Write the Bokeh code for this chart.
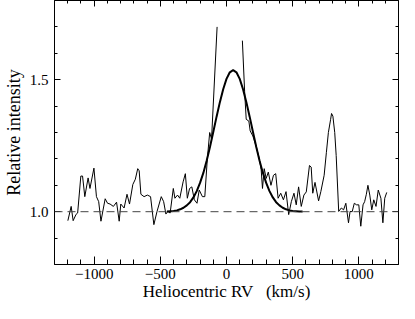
import numpy as np
from bokeh.plotting import figure
from bokeh.models import Range1d, FixedTicker, LinearAxis, Span, ColumnDataSource, CustomJSTickFormatter
from bokeh.embed import file_html
from bokeh.resources import INLINE

# Observed spectrum (heliocentric velocity km/s, relative intensity); NaN marks the gap
SPEC_VEL = [-1199, -1174, -1159, -1137, -1125, -1101, -1088, -1071, -1046, -1032,
            -1002, -983, -966, -949, -917, -899, -880, -855, -831, -811,
            -799, -774, -752, -733, -708, -689, -671, -660, -647, -623,
            -598, -574, -549, -525, -493, -475, -458, -444, -426, -402,
            -390, -370, -353, -328, -311, -296, -279, -262, -243, -223,
            -206, -182, -164, -145, -127, -113, -71, 0,
            120, 137, 149, 169, 179, 199, 223, 248, 262, 272,
            285, 300, 316, 336, 355, 372, 390, 410, 430, 450,
            470, 490, 510, 527, 545, 565, 585, 603, 627, 640,
            652, 669, 696, 713, 738, 755, 770, 787, 794, 804,
            818, 829, 848, 868, 885, 902, 922, 934, 950, 966,
            983, 1000, 1015, 1032, 1044, 1057, 1069, 1083, 1098, 1113,
            1130, 1147, 1167, 1182, 1196, 1211]
SPEC_INT = [0.966, 1.020, 0.966, 0.990, 0.995, 1.135, 1.135, 1.057, 1.128, 1.088,
            1.165, 1.057, 1.038, 0.964, 1.049, 1.032, 1.029, 1.020, 1.036, 0.964,
            1.029, 1.014, 1.066, 1.029, 1.103, 1.123, 1.163, 1.155, 1.066, 1.057,
            1.063, 1.057, 0.951, 1.001, 1.057, 1.038, 0.991, 1.001, 0.995, 1.088,
            1.051, 1.063, 1.051, 1.113, 1.144, 1.051, 1.088, 1.094, 1.045, 1.032,
            1.082, 1.057, 1.057, 1.200, 1.300, 1.275, 1.700, float("nan"),
            1.648, 1.455, 1.350, 1.343, 1.306, 1.287, 1.250, 1.200, 1.160, 1.088,
            1.163, 1.126, 1.150, 1.100, 1.138, 1.144, 1.051, 1.070, 1.045, 1.076,
            0.989, 1.038, 1.070, 1.026, 1.094, 1.020, 1.063, 1.075, 1.175, 1.169,
            1.070, 1.111, 1.041, 1.076, 1.138, 1.225, 1.300, 1.350, 1.372, 1.362,
            1.300, 1.213, 1.001, 1.014, 1.007, 1.032, 0.958, 1.001, 1.000, 1.032,
            1.026, 1.026, 0.945, 1.026, 1.038, 1.066, 1.100, 1.063, 1.007, 1.045,
            1.020, 1.082, 1.051, 0.958, 1.051, 1.073]

# Fitted profile
FIT_VEL = [-450, -425, -400, -375, -350, -325, -300, -275, -250, -225,
           -200, -175, -150, -125, -100, -75, -50, -25, 0, 25,
           50, 75, 100, 125, 150, 175, 200, 225, 250, 275,
           300, 325, 350, 375, 400, 425, 450, 475, 500, 525,
           550, 575]
FIT_INT = [1.001, 1.002, 1.003, 1.005, 1.009, 1.015, 1.024, 1.036, 1.054, 1.078,
           1.109, 1.147, 1.193, 1.245, 1.302, 1.360, 1.415, 1.464, 1.503, 1.528,
           1.536, 1.528, 1.503, 1.464, 1.415, 1.360, 1.302, 1.245, 1.193, 1.147,
           1.109, 1.078, 1.054, 1.036, 1.024, 1.015, 1.009, 1.005, 1.003, 1.002,
           1.001, 1.001]

CONTINUUM = 1.0
X_MAJOR = [-1000, -500, 0, 500, 1000]
X_MINOR = [-1200, -1100, -900, -800, -700, -600, -400, -300, -200, -100,
           100, 200, 300, 400, 600, 700, 800, 900, 1100, 1200]
Y_MAJOR = [1.0, 1.5]
Y_MINOR = [0.9, 1.1, 1.2, 1.3, 1.4, 1.6, 1.7]
Y_LABELS = {1.0: "1.0", 1.5: "1.5"}

FONT = "Liberation Serif"

p = figure(width=399, height=303, x_range=Range1d(-1300, 1300), y_range=Range1d(0.8, 1.8),
           output_backend="svg", toolbar_location=None,
           min_border_left=40, min_border_right=1, min_border_top=0, min_border_bottom=30)
p.grid.visible = False
p.outline_line_color = "black"
p.background_fill_color = "white"
p.border_fill_color = "white"


def style(ax, major_in, minor_in, labels=True):
    ax.major_tick_in = major_in
    ax.major_tick_out = 0
    ax.minor_tick_in = minor_in
    ax.minor_tick_out = 0
    ax.axis_line_color = "black"
    ax.major_tick_line_color = "black"
    ax.minor_tick_line_color = "black"
    ax.major_label_text_font = FONT
    ax.major_label_text_color = "black"
    ax.axis_label_text_font = FONT
    ax.axis_label_text_font_style = "normal"
    ax.axis_label_text_color = "black"
    if not labels:
        ax.formatter = CustomJSTickFormatter(code="return ''")
        ax.major_label_standoff = 0
        ax.major_label_text_font_size = "0px"


xa = p.xaxis[0]
xa.ticker = FixedTicker(ticks=X_MAJOR, minor_ticks=X_MINOR)
style(xa, 8, 5)
xa.major_label_text_font_size = "15px"
xa.major_label_standoff = 4
xa.axis_label = "Heliocentric RV\u00a0\u00a0 (km/s)"
xa.axis_label_text_font_size = "17px"
xa.axis_label_standoff = 0

ya = p.yaxis[0]
ya.ticker = FixedTicker(ticks=Y_MAJOR, minor_ticks=Y_MINOR)
style(ya, 6, 3)
ya.major_label_overrides = Y_LABELS
ya.major_label_text_font_size = "15px"
ya.major_label_standoff = 6
ya.axis_label = "Relative intensity"
ya.axis_label_text_font_size = "18px"
ya.axis_label_standoff = 3

top = LinearAxis(ticker=FixedTicker(ticks=X_MAJOR, minor_ticks=X_MINOR))
style(top, 6, 3, labels=False)
p.add_layout(top, "above")

right = LinearAxis(ticker=FixedTicker(ticks=Y_MAJOR, minor_ticks=Y_MINOR))
style(right, 6, 3, labels=False)
p.add_layout(right, "right")

p.add_layout(Span(location=CONTINUUM, dimension="width", line_color="#444444",
                  line_width=1, line_dash="8 5"))

spec = ColumnDataSource(dict(v=SPEC_VEL, f=SPEC_INT))
p.line("v", "f", source=spec, line_color="black", line_width=1)

fit = ColumnDataSource(dict(v=FIT_VEL, f=FIT_INT))
p.line("v", "f", source=fit, line_color="black", line_width=2)

open("out.html", "w").write(file_html(p, INLINE))
